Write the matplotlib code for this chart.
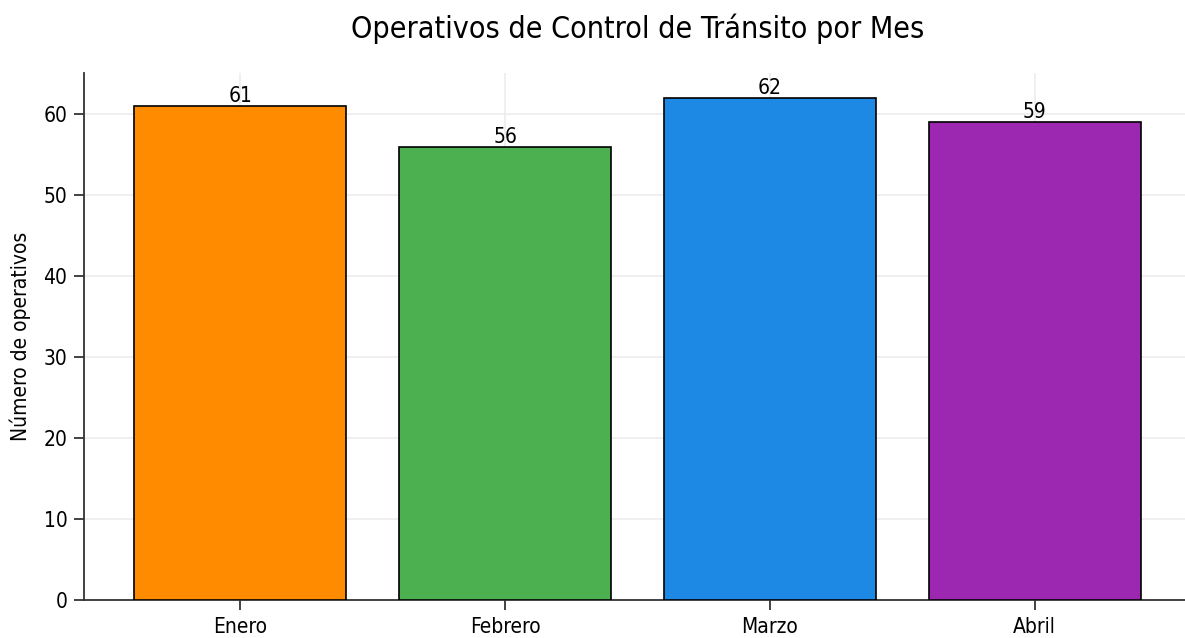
import matplotlib
matplotlib.use('Agg')
import matplotlib.pyplot as plt
from matplotlib import font_manager

meses = ['Enero', 'Febrero', 'Marzo', 'Abril']
operativos = [61, 56, 62, 59]
colores = ['#FF8C00', '#4CAF50', '#1E88E5', '#9C27B0']

# fuente estrecha si existe
nombres = {f.name for f in font_manager.fontManager.ttflist}
if 'DejaVu Sans Condensed' in nombres:
    plt.rcParams['font.family'] = ['DejaVu Sans Condensed', 'DejaVu Sans']
else:
    plt.rcParams['font.family'] = ['DejaVu Sans']
plt.rcParams['font.stretch'] = 'condensed'

fig = plt.figure(figsize=(11.85, 6.38), dpi=100)
ax = fig.add_axes([84 / 1185, 38 / 638, 1107 / 1185, 527 / 638])

barras = ax.bar(meses, operativos, width=0.8, color=colores,
                edgecolor='black', linewidth=1.2, zorder=3)
for b, v in zip(barras, operativos):
    ax.text(b.get_x() + b.get_width() / 2, v, str(v),
            ha='center', va='bottom', fontsize=15, zorder=4)

ax.set_title('Operativos de Control de Tránsito por Mes', fontsize=21.8, pad=25.5)
ax.set_ylabel('Número de operativos', fontsize=15, labelpad=9)
ax.grid(True, color='#ececec', linewidth=1.2, zorder=0)
ax.set_axisbelow(True)
for s in ['top', 'right']:
    ax.spines[s].set_visible(False)
for s in ['left', 'bottom']:
    ax.spines[s].set_color('#333333')
    ax.spines[s].set_linewidth(1.3)
ax.tick_params(axis='both', labelsize=15, length=7, width=1.2, pad=5,
               color='#222222')

fig.savefig('out.png', dpi=100)
